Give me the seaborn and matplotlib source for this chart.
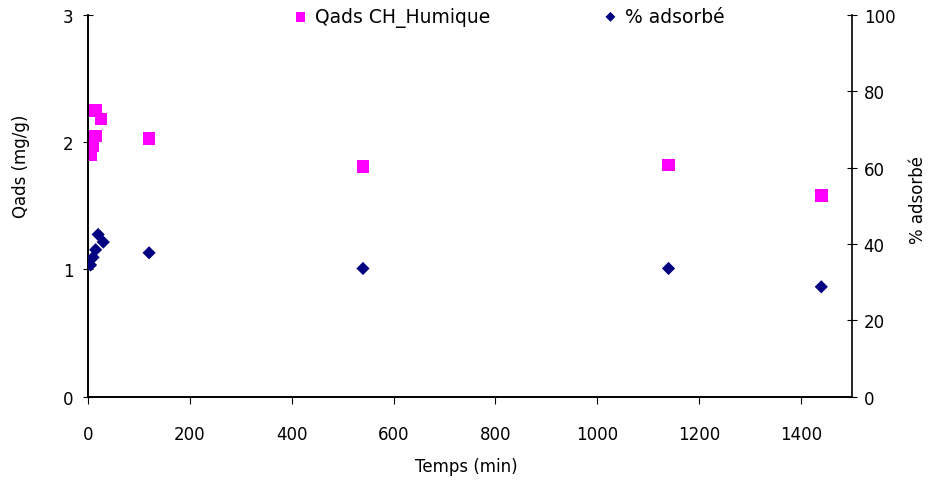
import numpy as np
import pandas as pd
import matplotlib
matplotlib.use('Agg')
import matplotlib.pyplot as plt
import seaborn as sns

# data
temps = [5, 10, 15, 15, 25, 120, 540, 1140, 1440]
qads = [1.90, 1.97, 2.05, 2.25, 2.18, 2.03, 1.81, 1.82, 1.58]
temps_pct = [5, 10, 15, 20, 30, 120, 540, 1140, 1440]
pct_adsorbe = [34.5, 36.5, 38.5, 42.5, 40.5, 37.7, 33.6, 33.6, 28.8]

df_q = pd.DataFrame({'Temps': temps, 'Qads': qads})
df_p = pd.DataFrame({'Temps': temps_pct, 'pct': pct_adsorbe})

sns.set_style('white')
plt.rcParams['font.family'] = ['DejaVu Sans']
plt.rcParams['text.color'] = 'black'
plt.rcParams['axes.labelcolor'] = 'black'
plt.rcParams['xtick.color'] = 'black'
plt.rcParams['ytick.color'] = 'black'
fs = 12

fig, ax = plt.subplots(figsize=(9.32, 4.81), dpi=100)
fig.subplots_adjust(left=0.0944, right=0.914, bottom=0.173, top=0.967)
ax2 = ax.twinx()

sns.scatterplot(data=df_q, x='Temps', y='Qads', ax=ax, marker='s', s=80,
                color='#ff00ff', edgecolor='none', label='Qads CH_Humique', legend=False, zorder=3)
sns.scatterplot(data=df_p, x='Temps', y='pct', ax=ax2, marker='D', s=45,
                color='#000080', edgecolor='none', label='% adsorbé', legend=False, zorder=3)

ax.set_xlim(0, 1500)
ax.set_ylim(0, 3)
ax2.set_ylim(0, 100)
ax.set_xticks(range(0, 1401, 200))
ax.set_yticks([0, 1, 2, 3])
ax2.set_yticks(range(0, 101, 20))

ax.set_xlabel('Temps (min)', fontsize=fs)
ax.set_ylabel('Qads (mg/g)', fontsize=fs)
ax2.set_ylabel('% adsorbé', fontsize=fs, rotation=90)
ax.xaxis.set_label_coords(0.495, -0.157)
ax.yaxis.set_label_coords(-0.076, 0.607)
ax2.yaxis.set_label_coords(1.075, 0.518)

for a in (ax, ax2):
    a.spines['top'].set_visible(False)
    for sp in a.spines.values():
        sp.set_color('black')
        sp.set_linewidth(1.2)
ax.spines['right'].set_visible(False)
ax.tick_params(axis='y', direction='inout', length=7, labelsize=fs, left=True, pad=7)
ax.tick_params(axis='x', direction='out', length=5, labelsize=fs, bottom=True, pad=15)
ax2.tick_params(axis='y', direction='inout', length=7, labelsize=fs, right=True, pad=5)

h1, l1 = ax.get_legend_handles_labels()
h2, l2 = ax2.get_legend_handles_labels()
ax.legend(h1 + h2, l1 + l2, loc='center left', bbox_to_anchor=(0.268, 0.995), ncol=2,
          frameon=False, fontsize=13.5, columnspacing=6.0, handlelength=0.8,
          handletextpad=0.4, markerscale=0.75, borderaxespad=0, borderpad=0)

plt.savefig('out.png', dpi=100)
